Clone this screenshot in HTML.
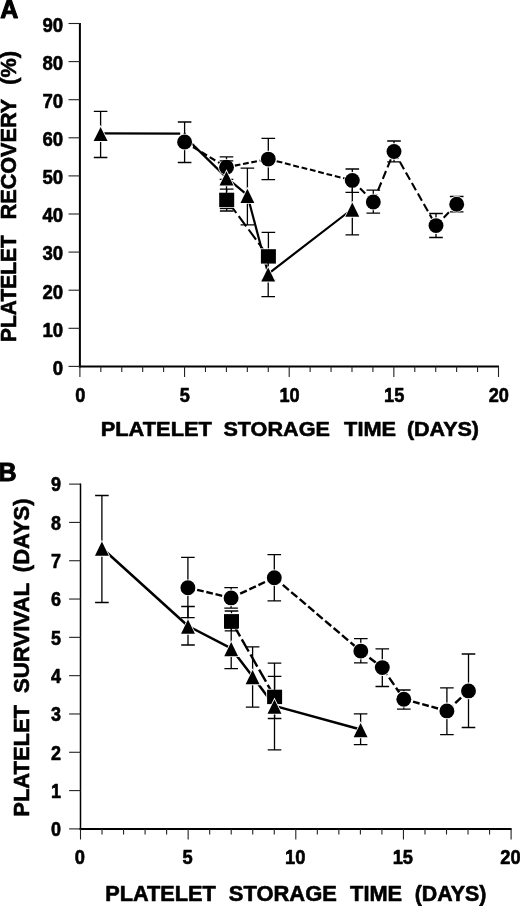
<!DOCTYPE html>
<html lang="en"><head><meta charset="utf-8"><title>Platelet recovery and survival</title>
<style>
html,body{margin:0;padding:0;background:#fff;}
svg{display:block;filter:grayscale(1)}
.m{fill:#000;stroke:#fff;stroke-width:1.7px;paint-order:stroke fill}
text{font-family:"Liberation Sans", sans-serif;font-weight:bold;fill:#000}
text{stroke:#000;stroke-width:0.6px;stroke-linejoin:round}
.tk{font-size:19px}
.ti{font-size:20.8px}
.tb{font-size:21.2px}
.ya{font-size:21.3px}
.yb{font-size:21.9px}
.pl{font-size:25px;stroke-width:1px}
</style></head><body>
<svg width="520" height="906" viewBox="0 0 520 906">
<rect width="520" height="906" fill="#fff"/>
<text x="0.2" y="17.7" class="pl">A</text>
<line x1="79.9" y1="23.0" x2="79.9" y2="367.4" stroke="#000" stroke-width="2.0"/>
<line x1="78.9" y1="366.4" x2="499.0" y2="366.4" stroke="#000" stroke-width="2"/>
<line x1="68.5" y1="366.40" x2="79.9" y2="366.40" stroke="#222" stroke-width="1.1"/>
<text x="63.1" y="374.70" text-anchor="end" font-size="20.3" textLength="10.35" lengthAdjust="spacingAndGlyphs">0</text>
<line x1="68.5" y1="328.30" x2="79.9" y2="328.30" stroke="#222" stroke-width="1.1"/>
<text x="63.1" y="336.60" text-anchor="end" font-size="20.3" textLength="20.70" lengthAdjust="spacingAndGlyphs">10</text>
<line x1="68.5" y1="290.20" x2="79.9" y2="290.20" stroke="#222" stroke-width="1.1"/>
<text x="63.1" y="298.50" text-anchor="end" font-size="20.3" textLength="20.70" lengthAdjust="spacingAndGlyphs">20</text>
<line x1="68.5" y1="252.10" x2="79.9" y2="252.10" stroke="#222" stroke-width="1.1"/>
<text x="63.1" y="260.40" text-anchor="end" font-size="20.3" textLength="20.70" lengthAdjust="spacingAndGlyphs">30</text>
<line x1="68.5" y1="214.00" x2="79.9" y2="214.00" stroke="#222" stroke-width="1.1"/>
<text x="63.1" y="222.30" text-anchor="end" font-size="20.3" textLength="20.70" lengthAdjust="spacingAndGlyphs">40</text>
<line x1="68.5" y1="175.90" x2="79.9" y2="175.90" stroke="#222" stroke-width="1.1"/>
<text x="63.1" y="184.20" text-anchor="end" font-size="20.3" textLength="20.70" lengthAdjust="spacingAndGlyphs">50</text>
<line x1="68.5" y1="137.80" x2="79.9" y2="137.80" stroke="#222" stroke-width="1.1"/>
<text x="63.1" y="146.10" text-anchor="end" font-size="20.3" textLength="20.70" lengthAdjust="spacingAndGlyphs">60</text>
<line x1="68.5" y1="99.70" x2="79.9" y2="99.70" stroke="#222" stroke-width="1.1"/>
<text x="63.1" y="108.00" text-anchor="end" font-size="20.3" textLength="20.70" lengthAdjust="spacingAndGlyphs">70</text>
<line x1="68.5" y1="61.60" x2="79.9" y2="61.60" stroke="#222" stroke-width="1.1"/>
<text x="63.1" y="69.90" text-anchor="end" font-size="20.3" textLength="20.70" lengthAdjust="spacingAndGlyphs">80</text>
<line x1="68.5" y1="23.50" x2="79.9" y2="23.50" stroke="#222" stroke-width="1.1"/>
<text x="63.1" y="31.80" text-anchor="end" font-size="20.3" textLength="20.70" lengthAdjust="spacingAndGlyphs">90</text>
<line x1="79.90" y1="366.4" x2="79.90" y2="377.0" stroke="#222" stroke-width="1.1"/>
<line x1="100.83" y1="366.4" x2="100.83" y2="372.0" stroke="#222" stroke-width="1.1"/>
<line x1="121.76" y1="366.4" x2="121.76" y2="372.0" stroke="#222" stroke-width="1.1"/>
<line x1="142.69" y1="366.4" x2="142.69" y2="372.0" stroke="#222" stroke-width="1.1"/>
<line x1="163.62" y1="366.4" x2="163.62" y2="372.0" stroke="#222" stroke-width="1.1"/>
<line x1="184.55" y1="366.4" x2="184.55" y2="377.0" stroke="#222" stroke-width="1.1"/>
<line x1="205.48" y1="366.4" x2="205.48" y2="372.0" stroke="#222" stroke-width="1.1"/>
<line x1="226.41" y1="366.4" x2="226.41" y2="372.0" stroke="#222" stroke-width="1.1"/>
<line x1="247.34" y1="366.4" x2="247.34" y2="372.0" stroke="#222" stroke-width="1.1"/>
<line x1="268.27" y1="366.4" x2="268.27" y2="372.0" stroke="#222" stroke-width="1.1"/>
<line x1="289.20" y1="366.4" x2="289.20" y2="377.0" stroke="#222" stroke-width="1.1"/>
<line x1="310.13" y1="366.4" x2="310.13" y2="372.0" stroke="#222" stroke-width="1.1"/>
<line x1="331.06" y1="366.4" x2="331.06" y2="372.0" stroke="#222" stroke-width="1.1"/>
<line x1="351.99" y1="366.4" x2="351.99" y2="372.0" stroke="#222" stroke-width="1.1"/>
<line x1="372.92" y1="366.4" x2="372.92" y2="372.0" stroke="#222" stroke-width="1.1"/>
<line x1="393.85" y1="366.4" x2="393.85" y2="377.0" stroke="#222" stroke-width="1.1"/>
<line x1="414.78" y1="366.4" x2="414.78" y2="372.0" stroke="#222" stroke-width="1.1"/>
<line x1="435.71" y1="366.4" x2="435.71" y2="372.0" stroke="#222" stroke-width="1.1"/>
<line x1="456.64" y1="366.4" x2="456.64" y2="372.0" stroke="#222" stroke-width="1.1"/>
<line x1="477.57" y1="366.4" x2="477.57" y2="372.0" stroke="#222" stroke-width="1.1"/>
<line x1="498.50" y1="366.4" x2="498.50" y2="377.0" stroke="#222" stroke-width="1.1"/>
<text x="80.20" y="401.50" text-anchor="middle" font-size="19.6" textLength="10.10" lengthAdjust="spacingAndGlyphs">0</text>
<text x="184.85" y="401.50" text-anchor="middle" font-size="19.6" textLength="10.10" lengthAdjust="spacingAndGlyphs">5</text>
<text x="289.50" y="401.50" text-anchor="middle" font-size="19.6" textLength="20.20" lengthAdjust="spacingAndGlyphs">10</text>
<text x="394.15" y="401.50" text-anchor="middle" font-size="19.6" textLength="20.20" lengthAdjust="spacingAndGlyphs">15</text>
<text x="498.80" y="401.50" text-anchor="middle" font-size="19.6" textLength="20.20" lengthAdjust="spacingAndGlyphs">20</text>
<path d="M100.60 133.30L180.20 133.60" stroke="#000" stroke-width="2.2" fill="none" stroke-linejoin="round"/>
<path d="M184.60 136.60L226.50 177.60L247.40 195.20L268.20 273.80L352.30 209.00" stroke="#000" stroke-width="2.2" fill="none" stroke-linejoin="round"/>
<path d="M184.6 142.0L190.3 145.4M193.0 147.0L198.6 150.4M201.3 152.0L207.0 155.5M209.7 157.1L215.3 160.5M218.0 162.1L223.7 165.5M226.4 167.1L226.5 167.2M226.5 167.2L232.1 166.1M234.8 165.6L240.4 164.5M243.0 164.0L248.7 162.9M251.3 162.4L256.9 161.3M259.6 160.8L265.2 159.7M267.9 159.2L268.3 159.1M268.3 159.1L274.0 160.5M276.6 161.2L282.3 162.6M284.9 163.3L290.6 164.7M293.2 165.4L298.9 166.9M301.6 167.5L307.2 169.0M309.9 169.6L315.5 171.1M318.2 171.7L323.8 173.2M326.5 173.9L332.1 175.3M334.8 176.0L340.5 177.4M343.1 178.1L348.8 179.5M351.4 180.2L352.3 180.4M352.3 180.4L357.5 185.8M360.0 188.3L365.2 193.6M367.6 196.2L372.8 201.5M373.3 202.0L376.5 194.1M378.0 190.4L381.3 182.5M382.8 178.8L386.0 171.0M387.5 167.3L390.8 159.4M392.3 155.7L394.0 151.5M394.0 151.5L398.1 158.7M400.0 162.0L404.0 169.2M405.9 172.5L410.0 179.7M411.9 183.1L415.9 190.2M417.9 193.6L421.9 200.7M423.8 204.1L427.9 211.3M429.8 214.6L433.8 221.8M435.7 225.1L436.0 225.6M436.0 225.6L441.2 220.2M443.7 217.7L448.9 212.3M451.3 209.8L456.5 204.4" stroke="#000" stroke-width="2.1" fill="none"/>
<path d="M228.9 202.8L236.3 213.0M238.7 216.2L246.2 226.3M248.6 229.5L256.0 239.6M258.4 242.8L265.9 253.0M268.2 256.2L268.4 256.4" stroke="#000" stroke-width="2.1" fill="none"/>
<path d="M184.70 131.50L191.65 145.70H177.75Z" class="m"/>
<path d="M177.80 122.00H191.40M177.80 162.50H191.40M184.60 122.00V162.50" stroke="#000" stroke-width="1.3" fill="none"/>
<path d="M219.70 156.80H233.30M219.70 179.40H233.30M226.50 156.80V179.40" stroke="#000" stroke-width="1.3" fill="none"/>
<path d="M261.50 138.30H275.10M261.50 179.70H275.10M268.30 138.30V179.70" stroke="#000" stroke-width="1.3" fill="none"/>
<path d="M345.50 169.00H359.10M345.50 192.40H359.10M352.30 169.00V192.40" stroke="#000" stroke-width="1.3" fill="none"/>
<path d="M366.50 190.20H380.10M366.50 213.10H380.10M373.30 190.20V213.10" stroke="#000" stroke-width="1.3" fill="none"/>
<path d="M387.20 141.00H400.80M387.20 161.80H400.80M394.00 141.00V161.80" stroke="#000" stroke-width="1.3" fill="none"/>
<path d="M429.20 213.50H442.80M429.20 237.50H442.80M436.00 213.50V237.50" stroke="#000" stroke-width="1.3" fill="none"/>
<path d="M449.90 196.50H463.50M449.90 211.90H463.50M456.70 196.50V211.90" stroke="#000" stroke-width="1.3" fill="none"/>
<circle cx="184.60" cy="142.00" r="7.45" class="m"/>
<circle cx="226.50" cy="167.20" r="7.45" class="m"/>
<circle cx="268.30" cy="159.10" r="7.45" class="m"/>
<circle cx="352.30" cy="180.40" r="7.45" class="m"/>
<circle cx="373.30" cy="202.00" r="7.45" class="m"/>
<circle cx="394.00" cy="151.50" r="7.45" class="m"/>
<circle cx="436.00" cy="225.60" r="7.45" class="m"/>
<circle cx="456.70" cy="204.20" r="7.45" class="m"/>
<path d="M219.90 189.10H233.50M219.90 211.00H233.50M226.70 189.10V211.00" stroke="#000" stroke-width="1.3" fill="none"/>
<path d="M261.60 232.30H275.20M261.60 280.00H275.20M268.40 232.30V280.00" stroke="#000" stroke-width="1.3" fill="none"/>
<rect x="219.20" y="192.70" width="15.0" height="14.4" class="m"/>
<rect x="260.90" y="249.20" width="15.0" height="14.4" class="m"/>
<path d="M93.80 111.30H107.40M93.80 157.50H107.40M100.60 111.30V157.50" stroke="#000" stroke-width="1.3" fill="none"/>
<path d="M219.70 160.90H233.30M219.70 194.00H233.30M226.50 160.90V194.00" stroke="#000" stroke-width="1.3" fill="none"/>
<path d="M240.60 168.10H254.20M240.60 224.90H254.20M247.40 168.10V224.90" stroke="#000" stroke-width="1.3" fill="none"/>
<path d="M261.40 251.00H275.00M261.40 296.60H275.00M268.20 251.00V296.60" stroke="#000" stroke-width="1.3" fill="none"/>
<path d="M345.50 182.00H359.10M345.50 234.80H359.10M352.30 182.00V234.80" stroke="#000" stroke-width="1.3" fill="none"/>
<path d="M100.60 126.90L107.55 141.10H93.65Z" class="m"/>
<path d="M226.50 171.20L233.45 185.40H219.55Z" class="m"/>
<path d="M247.40 188.80L254.35 203.00H240.45Z" class="m"/>
<path d="M268.20 267.40L275.15 281.60H261.25Z" class="m"/>
<path d="M352.30 202.60L359.25 216.80H345.35Z" class="m"/>
<path d="M219.8 208.5H233.6" stroke="#000" stroke-width="1.3"/>
<text x="100.7" y="436.3" class="ti" textLength="111.2" lengthAdjust="spacingAndGlyphs">PLATELET</text>
<text x="223.4" y="436.3" class="ti" textLength="106.5" lengthAdjust="spacingAndGlyphs">STORAGE</text>
<text x="344.1" y="436.3" class="ti" textLength="52.0" lengthAdjust="spacingAndGlyphs">TIME</text>
<text x="406.9" y="436.3" class="ti" textLength="72.1" lengthAdjust="spacingAndGlyphs">(DAYS)</text>
<text transform="translate(16.2,341.90) rotate(-90)" class="ya" textLength="106.60" lengthAdjust="spacingAndGlyphs">PLATELET</text>
<text transform="translate(16.2,219.40) rotate(-90)" class="ya" textLength="120.60" lengthAdjust="spacingAndGlyphs">RECOVERY</text>
<text transform="translate(16.2,84.80) rotate(-90)" class="ya" textLength="33.80" lengthAdjust="spacingAndGlyphs">(%)</text>
<text x="-1.6" y="481.2" class="pl">B</text>
<line x1="80.5" y1="483.60999999999996" x2="80.5" y2="829.9" stroke="#000" stroke-width="1.5"/>
<line x1="79.5" y1="828.9" x2="511.6" y2="828.9" stroke="#000" stroke-width="2"/>
<line x1="69.1" y1="828.90" x2="80.5" y2="828.90" stroke="#222" stroke-width="1.1"/>
<text x="61.1" y="836.20" text-anchor="end" font-size="19.6" textLength="10.00" lengthAdjust="spacingAndGlyphs">0</text>
<line x1="69.1" y1="790.59" x2="80.5" y2="790.59" stroke="#222" stroke-width="1.1"/>
<text x="61.1" y="797.89" text-anchor="end" font-size="19.6" textLength="10.00" lengthAdjust="spacingAndGlyphs">1</text>
<line x1="69.1" y1="752.28" x2="80.5" y2="752.28" stroke="#222" stroke-width="1.1"/>
<text x="61.1" y="759.58" text-anchor="end" font-size="19.6" textLength="10.00" lengthAdjust="spacingAndGlyphs">2</text>
<line x1="69.1" y1="713.97" x2="80.5" y2="713.97" stroke="#222" stroke-width="1.1"/>
<text x="61.1" y="721.27" text-anchor="end" font-size="19.6" textLength="10.00" lengthAdjust="spacingAndGlyphs">3</text>
<line x1="69.1" y1="675.66" x2="80.5" y2="675.66" stroke="#222" stroke-width="1.1"/>
<text x="61.1" y="682.96" text-anchor="end" font-size="19.6" textLength="10.00" lengthAdjust="spacingAndGlyphs">4</text>
<line x1="69.1" y1="637.35" x2="80.5" y2="637.35" stroke="#222" stroke-width="1.1"/>
<text x="61.1" y="644.65" text-anchor="end" font-size="19.6" textLength="10.00" lengthAdjust="spacingAndGlyphs">5</text>
<line x1="69.1" y1="599.04" x2="80.5" y2="599.04" stroke="#222" stroke-width="1.1"/>
<text x="61.1" y="606.34" text-anchor="end" font-size="19.6" textLength="10.00" lengthAdjust="spacingAndGlyphs">6</text>
<line x1="69.1" y1="560.73" x2="80.5" y2="560.73" stroke="#222" stroke-width="1.1"/>
<text x="61.1" y="568.03" text-anchor="end" font-size="19.6" textLength="10.00" lengthAdjust="spacingAndGlyphs">7</text>
<line x1="69.1" y1="522.42" x2="80.5" y2="522.42" stroke="#222" stroke-width="1.1"/>
<text x="61.1" y="529.72" text-anchor="end" font-size="19.6" textLength="10.00" lengthAdjust="spacingAndGlyphs">8</text>
<line x1="69.1" y1="484.11" x2="80.5" y2="484.11" stroke="#222" stroke-width="1.1"/>
<text x="61.1" y="491.41" text-anchor="end" font-size="19.6" textLength="10.00" lengthAdjust="spacingAndGlyphs">9</text>
<line x1="80.50" y1="828.9" x2="80.50" y2="839.5" stroke="#222" stroke-width="1.1"/>
<line x1="102.03" y1="828.9" x2="102.03" y2="834.5" stroke="#222" stroke-width="1.1"/>
<line x1="123.56" y1="828.9" x2="123.56" y2="834.5" stroke="#222" stroke-width="1.1"/>
<line x1="145.09" y1="828.9" x2="145.09" y2="834.5" stroke="#222" stroke-width="1.1"/>
<line x1="166.62" y1="828.9" x2="166.62" y2="834.5" stroke="#222" stroke-width="1.1"/>
<line x1="188.15" y1="828.9" x2="188.15" y2="839.5" stroke="#222" stroke-width="1.1"/>
<line x1="209.68" y1="828.9" x2="209.68" y2="834.5" stroke="#222" stroke-width="1.1"/>
<line x1="231.21" y1="828.9" x2="231.21" y2="834.5" stroke="#222" stroke-width="1.1"/>
<line x1="252.74" y1="828.9" x2="252.74" y2="834.5" stroke="#222" stroke-width="1.1"/>
<line x1="274.27" y1="828.9" x2="274.27" y2="834.5" stroke="#222" stroke-width="1.1"/>
<line x1="295.80" y1="828.9" x2="295.80" y2="839.5" stroke="#222" stroke-width="1.1"/>
<line x1="317.33" y1="828.9" x2="317.33" y2="834.5" stroke="#222" stroke-width="1.1"/>
<line x1="338.86" y1="828.9" x2="338.86" y2="834.5" stroke="#222" stroke-width="1.1"/>
<line x1="360.39" y1="828.9" x2="360.39" y2="834.5" stroke="#222" stroke-width="1.1"/>
<line x1="381.92" y1="828.9" x2="381.92" y2="834.5" stroke="#222" stroke-width="1.1"/>
<line x1="403.45" y1="828.9" x2="403.45" y2="839.5" stroke="#222" stroke-width="1.1"/>
<line x1="424.98" y1="828.9" x2="424.98" y2="834.5" stroke="#222" stroke-width="1.1"/>
<line x1="446.51" y1="828.9" x2="446.51" y2="834.5" stroke="#222" stroke-width="1.1"/>
<line x1="468.04" y1="828.9" x2="468.04" y2="834.5" stroke="#222" stroke-width="1.1"/>
<line x1="489.57" y1="828.9" x2="489.57" y2="834.5" stroke="#222" stroke-width="1.1"/>
<line x1="511.10" y1="828.9" x2="511.10" y2="839.5" stroke="#222" stroke-width="1.1"/>
<text x="79.90" y="863.90" text-anchor="middle" font-size="19.8" textLength="10.20" lengthAdjust="spacingAndGlyphs">0</text>
<text x="187.55" y="863.90" text-anchor="middle" font-size="19.8" textLength="10.20" lengthAdjust="spacingAndGlyphs">5</text>
<text x="295.20" y="863.90" text-anchor="middle" font-size="19.8" textLength="20.40" lengthAdjust="spacingAndGlyphs">10</text>
<text x="402.85" y="863.90" text-anchor="middle" font-size="19.8" textLength="20.40" lengthAdjust="spacingAndGlyphs">15</text>
<text x="510.50" y="863.90" text-anchor="middle" font-size="19.8" textLength="20.40" lengthAdjust="spacingAndGlyphs">20</text>
<path d="M101.90 548.00L188.00 626.00L231.20 648.40L252.60 676.50L274.50 705.90L360.60 729.50" stroke="#000" stroke-width="2.5" fill="none" stroke-linejoin="round"/>
<path d="M187.9 587.7L194.5 589.3M197.1 589.9L203.7 591.4M206.3 592.0L212.9 593.6M215.5 594.2L222.2 595.8M224.7 596.4L231.1 597.9M231.1 597.9L237.7 594.8M240.2 593.6L246.8 590.6M249.3 589.4L255.9 586.3M258.4 585.1L265.0 582.0M267.5 580.9L274.1 577.8M274.3 577.7L280.4 582.9M282.8 584.9L288.9 590.1M291.2 592.1L297.3 597.2M299.7 599.2L305.8 604.4M308.2 606.4L314.3 611.6M316.6 613.6L322.7 618.8M325.1 620.8L331.2 626.0M333.6 628.0L339.7 633.2M342.0 635.2L348.1 640.3M350.5 642.3L356.6 647.5M359.0 649.5L360.8 651.1M360.8 651.1L367.0 655.9M369.4 657.7L375.7 662.5M378.1 664.4L382.3 667.6M382.3 667.6L387.2 674.8M389.1 677.6L394.1 684.9M396.0 687.7L400.9 694.9M402.8 697.7L403.8 699.2M403.8 699.2L410.4 701.0M413.0 701.7L419.6 703.5M422.2 704.2L428.8 706.0M431.4 706.7L438.0 708.5M440.6 709.2L446.9 710.9M446.9 710.9L452.9 705.4M455.2 703.2L461.1 697.7M463.5 695.6L468.5 690.9" stroke="#000" stroke-width="2.4" fill="none"/>
<path d="M233.2 624.3L240.1 636.4M241.8 639.4L248.7 651.5M250.5 654.5L257.3 666.6M259.1 669.7L266.0 681.7M267.7 684.8L274.6 696.9" stroke="#000" stroke-width="2.4" fill="none"/>
<path d="M181.10 557.30H194.70M181.10 617.70H194.70M187.90 557.30V617.70" stroke="#000" stroke-width="1.3" fill="none"/>
<path d="M224.30 587.70H237.90M224.30 608.10H237.90M231.10 587.70V608.10" stroke="#000" stroke-width="1.3" fill="none"/>
<path d="M267.50 554.60H281.10M267.50 600.90H281.10M274.30 554.60V600.90" stroke="#000" stroke-width="1.3" fill="none"/>
<path d="M354.00 638.60H367.60M354.00 662.90H367.60M360.80 638.60V662.90" stroke="#000" stroke-width="1.3" fill="none"/>
<path d="M375.50 648.90H389.10M375.50 686.50H389.10M382.30 648.90V686.50" stroke="#000" stroke-width="1.3" fill="none"/>
<path d="M397.00 690.00H410.60M397.00 709.10H410.60M403.80 690.00V709.10" stroke="#000" stroke-width="1.3" fill="none"/>
<path d="M440.10 687.80H453.70M440.10 734.60H453.70M446.90 687.80V734.60" stroke="#000" stroke-width="1.3" fill="none"/>
<path d="M461.70 654.00H475.30M461.70 727.50H475.30M468.50 654.00V727.50" stroke="#000" stroke-width="1.3" fill="none"/>
<circle cx="187.90" cy="587.70" r="7.45" class="m"/>
<circle cx="231.10" cy="597.90" r="7.45" class="m"/>
<circle cx="274.30" cy="577.70" r="7.45" class="m"/>
<circle cx="360.80" cy="651.10" r="7.45" class="m"/>
<circle cx="382.30" cy="667.60" r="7.45" class="m"/>
<circle cx="403.80" cy="699.20" r="7.45" class="m"/>
<circle cx="446.90" cy="710.90" r="7.45" class="m"/>
<circle cx="468.50" cy="690.90" r="7.45" class="m"/>
<path d="M224.70 611.00H238.30M224.70 630.80H238.30M231.50 611.00V630.80" stroke="#000" stroke-width="1.3" fill="none"/>
<path d="M267.80 676.30H281.40M267.80 718.50H281.40M274.60 676.30V718.50" stroke="#000" stroke-width="1.3" fill="none"/>
<rect x="224.00" y="614.10" width="15.0" height="14.4" class="m"/>
<rect x="267.10" y="689.70" width="15.0" height="14.4" class="m"/>
<path d="M95.10 495.50H108.70M95.10 602.50H108.70M101.90 495.50V602.50" stroke="#000" stroke-width="1.3" fill="none"/>
<path d="M181.20 606.50H194.80M181.20 645.00H194.80M188.00 606.50V645.00" stroke="#000" stroke-width="1.3" fill="none"/>
<path d="M224.40 628.00H238.00M224.40 668.70H238.00M231.20 628.00V668.70" stroke="#000" stroke-width="1.3" fill="none"/>
<path d="M245.80 646.90H259.40M245.80 707.10H259.40M252.60 646.90V707.10" stroke="#000" stroke-width="1.3" fill="none"/>
<path d="M267.70 663.20H281.30M267.70 749.80H281.30M274.50 663.20V749.80" stroke="#000" stroke-width="1.3" fill="none"/>
<path d="M353.80 713.90H367.40M353.80 744.60H367.40M360.60 713.90V744.60" stroke="#000" stroke-width="1.3" fill="none"/>
<path d="M101.90 541.60L108.85 555.80H94.95Z" class="m"/>
<path d="M188.00 619.60L194.95 633.80H181.05Z" class="m"/>
<path d="M231.20 642.00L238.15 656.20H224.25Z" class="m"/>
<path d="M252.60 670.10L259.55 684.30H245.65Z" class="m"/>
<path d="M274.50 699.50L281.45 713.70H267.55Z" class="m"/>
<path d="M360.60 723.10L367.55 737.30H353.65Z" class="m"/>
<text x="105.25" y="901.2" class="ti tb" textLength="110.65" lengthAdjust="spacingAndGlyphs">PLATELET</text>
<text x="228.85" y="901.2" class="ti tb" textLength="108.0" lengthAdjust="spacingAndGlyphs">STORAGE</text>
<text x="350.1" y="901.2" class="ti tb" textLength="52.05" lengthAdjust="spacingAndGlyphs">TIME</text>
<text x="414.65" y="901.2" class="ti tb" textLength="71.65" lengthAdjust="spacingAndGlyphs">(DAYS)</text>
<text transform="translate(29.3,816.70) rotate(-90)" class="yb" textLength="111.60" lengthAdjust="spacingAndGlyphs">PLATELET</text>
<text transform="translate(29.3,693.10) rotate(-90)" class="yb" textLength="110.20" lengthAdjust="spacingAndGlyphs">SURVIVAL</text>
<text transform="translate(29.3,572.20) rotate(-90)" class="yb" textLength="73.80" lengthAdjust="spacingAndGlyphs">(DAYS)</text>
</svg>
</body></html>
